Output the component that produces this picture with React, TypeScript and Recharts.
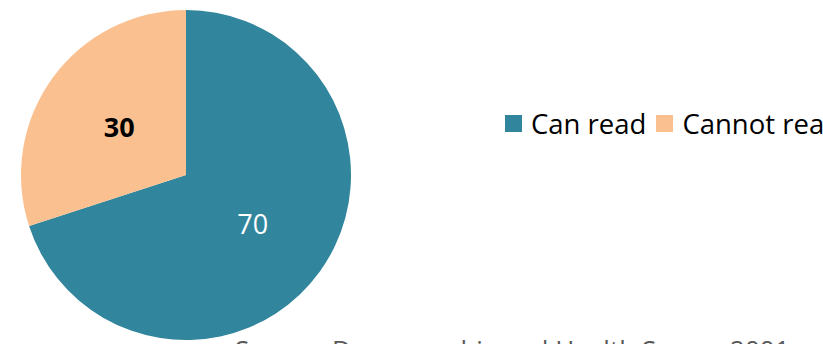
import React from 'react';
import { PieChart, Pie, Cell, Legend } from 'recharts';

const categories = ['Can read', 'Cannot read'];
const values = [70, 30];
const colors = ['#31859C', '#FAC090'];
const labelColors = ['#FFFFFF', '#000000'];
const labelWeights = ['normal', 'bold'];
const sourceNote = 'Source: Demographic and Health Survey 2001';

const data = categories.map((name, i) => ({ name, value: values[i] }));

const FONT = '"Open Sans", sans-serif';
const RADIAN = Math.PI / 180;

const renderLabel = ({ cx, cy, midAngle, outerRadius, index, value }: any) => {
  const r = outerRadius * 0.5;
  const x = cx + r * Math.cos(-midAngle * RADIAN);
  const y = cy + r * Math.sin(-midAngle * RADIAN);
  return (
    <text
      x={x}
      y={y}
      fill={labelColors[index]}
      fontWeight={labelWeights[index]}
      fontSize={27}
      fontFamily={FONT}
      textAnchor="middle"
      dominantBaseline="central"
    >
      {value}
    </text>
  );
};

const LegendContent = () => (
  <div style={{ display: 'flex', alignItems: 'center', whiteSpace: 'nowrap', fontFamily: FONT, fontSize: 27.5, color: '#000' }}>
    {categories.map((name, i) => (
      <span key={name} style={{ display: 'inline-flex', alignItems: 'center', marginRight: 10 }}>
        <span style={{ display: 'inline-block', width: 17, height: 17, background: colors[i], marginRight: 9 }} />
        {name}
      </span>
    ))}
  </div>
);

const App: React.FC = () => {
  return (
    <div style={{ position: 'absolute', left: 0, top: 0, width: 823, height: 344, overflow: 'hidden', background: '#fff' }}>
      <PieChart width={823} height={344} margin={{ top: 0, right: 0, bottom: 0, left: 0 }}>
        <Pie
          data={data}
          dataKey="value"
          nameKey="name"
          cx={186}
          cy={175}
          outerRadius={165}
          startAngle={90}
          endAngle={-270}
          stroke="none"
          labelLine={false}
          label={renderLabel}
          isAnimationActive={false}
        >
          {data.map((entry, index) => (
            <Cell key={`cell-${index}`} fill={colors[index]} />
          ))}
        </Pie>
        <Legend
          content={<LegendContent />}
          wrapperStyle={{ position: 'absolute', left: 505, top: 105, width: 420 }}
        />
      </PieChart>
      <div
        style={{
          position: 'absolute',
          left: 235,
          top: 331,
          fontFamily: FONT,
          fontSize: 26,
          color: '#595959',
          whiteSpace: 'nowrap',
        }}
      >
        {sourceNote}
      </div>
    </div>
  );
};

export default App;
